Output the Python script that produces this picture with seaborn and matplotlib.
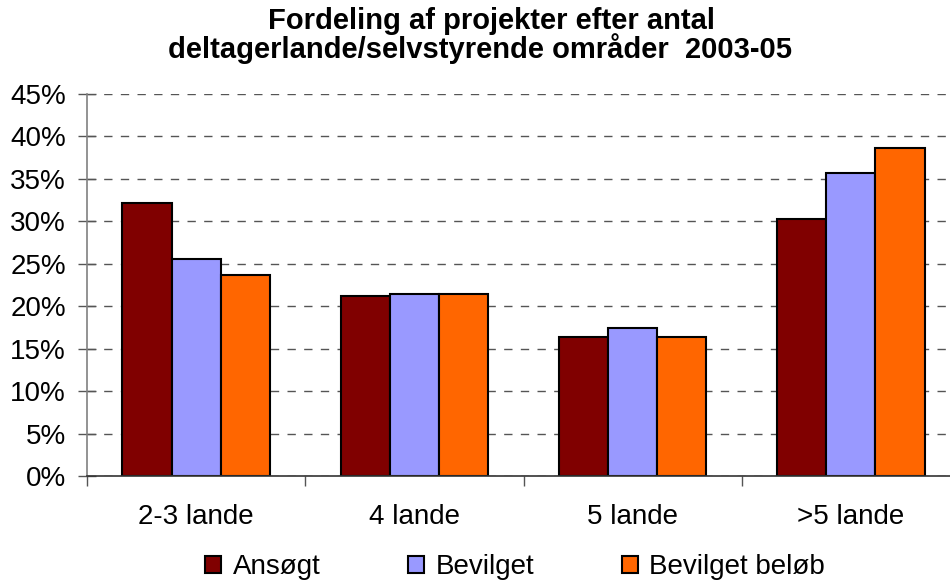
import matplotlib
matplotlib.use("Agg")
import matplotlib.pyplot as plt
import seaborn as sns
import pandas as pd
from matplotlib.ticker import PercentFormatter, FixedLocator, NullFormatter

categories = ["2-3 lande", "4 lande", "5 lande", ">5 lande"]
series_names = ["Ansøgt", "Bevilget", "Bevilget beløb"]
ansoegt = [32.2, 21.2, 16.4, 30.3]
bevilget = [25.6, 21.4, 17.4, 35.7]
bevilget_beloeb = [23.7, 21.4, 16.4, 38.6]
colors = ["#800000", "#9999FF", "#FF6600"]
y_ticks = [0, 5, 10, 15, 20, 25, 30, 35, 40, 45]
title_lines = ["Fordeling af projekter efter antal",
               "deltagerlande/selvstyrende områder  2003-05"]

rows = []
for name, vals in zip(series_names, [ansoegt, bevilget, bevilget_beloeb]):
    for c, v in zip(categories, vals):
        rows.append({"kategori": c, "serie": name, "andel": v})
df = pd.DataFrame(rows)

sns.set_theme(style="white")
plt.rcParams["font.family"] = ["Liberation Sans", "DejaVu Sans"]
plt.rcParams["text.color"] = "black"

fig = plt.figure(figsize=(9.5, 5.82), dpi=100)
W, H = 950, 582
ax = fig.add_axes([87 / W, 1 - 476 / H, (960 - 87) / W, (476 - 94) / H])

sns.barplot(data=df, x="kategori", y="andel", hue="serie", order=categories,
            hue_order=series_names, palette=colors, saturation=1, width=0.675,
            edgecolor="black", linewidth=1.5, ax=ax, legend=True, errorbar=None)

ax.set_xlim(-0.5, 3.5)
ax.set_ylim(0, 45)
ax.set_yticks(y_ticks)
ax.yaxis.set_major_formatter(PercentFormatter(decimals=0))
ax.set_xlabel("")
ax.set_ylabel("")
ax.yaxis.grid(True, linestyle=(0, (6, 6)), color="#555555", linewidth=1)
ax.set_axisbelow(True)

for s in ["top", "right"]:
    ax.spines[s].set_visible(False)
ax.spines["left"].set_color("#808080")
ax.spines["left"].set_linewidth(1.2)
ax.spines["bottom"].set_color("#333333")
ax.spines["bottom"].set_linewidth(1.2)

ax.tick_params(axis="y", which="major", direction="inout", length=13.5, width=1,
               color="#555555", labelsize=20, pad=8.5, left=True, labelcolor="black")
ax.tick_params(axis="x", which="major", length=0, labelsize=20, pad=20, labelcolor="black")
ax.xaxis.set_minor_locator(FixedLocator([-0.5, 0.5, 1.5, 2.5, 3.5]))
ax.xaxis.set_minor_formatter(NullFormatter())
ax.tick_params(axis="x", which="minor", direction="out", length=7, width=1,
               color="#555555", bottom=True)

handles, labels = ax.get_legend_handles_labels()
ax.get_legend().remove()
fig.legend(handles, labels, loc="center", bbox_to_anchor=(515 / W, 1 - 567 / H),
           ncol=3, frameon=False, fontsize=20, handlelength=0.58, handleheight=0.58,
           handletextpad=0.42, columnspacing=3.15, labelcolor="black")

fig.text(491 / W, 1 - 21 / H, title_lines[0], ha="center", va="center",
         fontsize=21, fontweight="bold")
fig.text(480 / W, 1 - 49 / H, title_lines[1], ha="center", va="center",
         fontsize=21, fontweight="bold")

fig.savefig("out.png", dpi=100)
